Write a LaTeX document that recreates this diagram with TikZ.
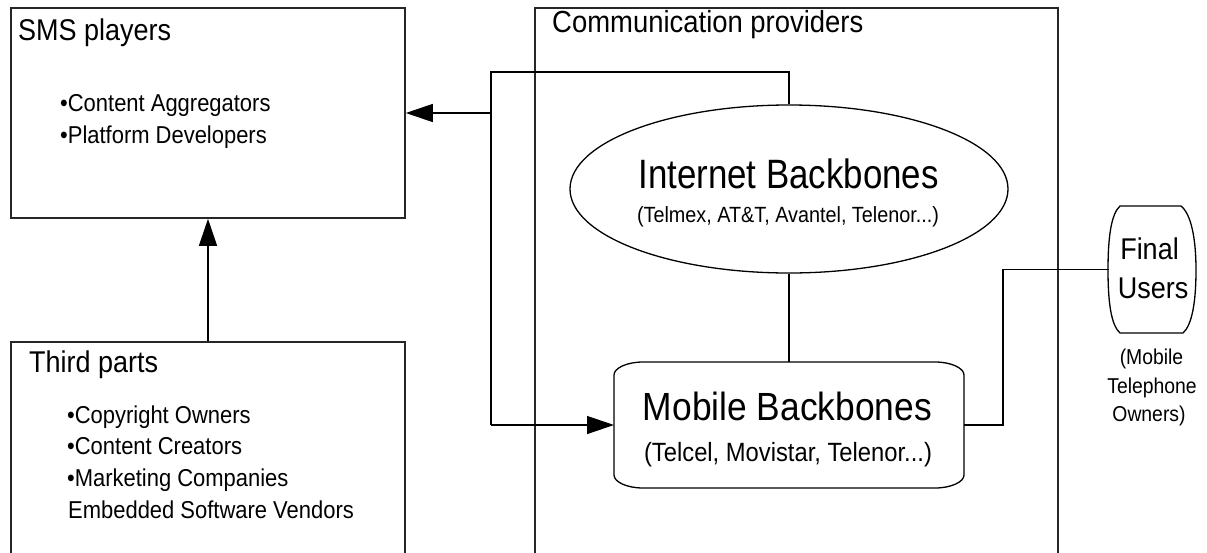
\documentclass[tikz,border=0pt]{standalone}
\usepackage{fontspec}
\setmainfont{Liberation Sans}[FakeStretch=0.9]
\newfontfamily\narrowfont{Liberation Sans}[FakeStretch=0.85]
\usetikzlibrary{arrows.meta,shapes.geometric}

\newcommand{\fs}[1]{\fontsize{#1}{#1}\selectfont}

\tikzset{
  frame/.style={draw=black!85, line width=1.6pt, inner sep=0pt},
  hidden/.style={inner sep=0pt, outer sep=0pt},
  wire/.style={draw=black, line width=1.3pt},
  arr/.style={wire, -{Triangle[length=27pt,width=18pt]}},
  lbl/.style={inner sep=0pt, text=black},
  outline/.style={draw=black, line width=1.3pt},
}

\begin{document}
\begin{tikzpicture}[x=1pt, y=-1pt]
  \useasboundingbox (0,0) rectangle (1207,552);
  \clip (0,0) rectangle (1207,552);
  \fill[white] (0,0) rectangle (1207,552);

  % --- outer boxes ---
  \node[frame, minimum width=394pt, minimum height=210pt] (sms) at (208,113) {};
  \node[frame, minimum width=394pt, minimum height=258pt] (tp) at (208,471) {};
  \node[frame, minimum width=523pt, minimum height=592pt] (cp) at (796.5,304) {};

  % --- box titles ---
  \node[lbl, anchor=base west, font=\fs{30}] (smst) at (18,40) {SMS players};
  \node[lbl, anchor=base west, font=\fs{24.4}] (sms1) at (60,111) {•Content Aggregators};
  \node[lbl, anchor=base west, font=\fs{24.4}] (sms2) at (60,143) {•Platform Developers};

  \node[lbl, anchor=base west, font=\fs{30}] (tpt) at (29,372) {Third parts};
  \node[lbl, anchor=base west, font=\fs{24.4}] (tp1) at (67,423) {•Copyright Owners};
  \node[lbl, anchor=base west, font=\fs{24.4}] (tp2) at (67,454) {•Content Creators};
  \node[lbl, anchor=base west, font=\fs{24.4}] (tp3) at (67,486) {•Marketing Companies};
  \node[lbl, anchor=base west, font=\fs{24.4}] (tp4) at (68,518) {Embedded Software Vendors};

  \node[lbl, anchor=base west, font=\fs{30.5}] (cpt) at (552,32) {Communication providers};

  % --- Internet backbones ---
  \node[ellipse, outline, inner sep=0pt, minimum width=438pt, minimum height=168pt] (ib) at (789,189) {};
  \node[lbl, anchor=base, font=\narrowfont\fs{41}] (ib1) at (788.5,188) {Internet Backbones};
  \node[lbl, anchor=base, font=\fs{22}] (ib2) at (788,222) {(Telmex, AT\&T, Avantel, Telenor...)};

  % --- Mobile backbones (rounded box with flattened corners) ---
  \node[hidden, minimum width=350pt, minimum height=126pt] (mb) at (789,425) {};
  \draw[outline]
    (643,362) -- (935,362)
    .. controls (951,362) and (964,368) .. (964,375)
    -- (964,475)
    .. controls (964,482) and (951,488) .. (935,488)
    -- (643,488)
    .. controls (627,488) and (614,482) .. (614,475)
    -- (614,375)
    .. controls (614,368) and (627,362) .. (643,362) -- cycle;
  \node[lbl, anchor=base, font=\fs{39.3}] (mb1) at (787.5,420) {Mobile Backbones};
  \node[lbl, anchor=base, font=\fs{26.4}] (mb2) at (788,461) {(Telcel, Movistar, Telenor...)};

  % --- Final users ---
  \node[hidden, minimum width=86pt, minimum height=127pt] (fu) at (1152,269.5) {};
  \draw[outline]
    (1120,206) -- (1181,206)
    .. controls (1191,214) and (1196,238) .. (1196,270)
    .. controls (1196,302) and (1192,325) .. (1183,333)
    -- (1120,333)
    .. controls (1111,325) and (1108,302) .. (1108,270)
    .. controls (1108,238) and (1111,214) .. (1120,206) -- cycle;
  \node[lbl, anchor=base, font=\fs{30}] (fu1) at (1149.5,259) {Final};
  \node[lbl, anchor=base, font=\fs{30}] (fu2) at (1153,298) {Users};
  \node[lbl, anchor=base, font=\fs{21.5}] (fu3) at (1151.5,364) {(Mobile};
  \node[lbl, anchor=base, font=\fs{21.5}] (fu4) at (1152,393) {Telephone};
  \node[lbl, anchor=base, font=\fs{21.5}] (fu5) at (1149,421) {Owners)};

  % --- connectors ---
  \coordinate (j1) at (491,72);
  \coordinate (r1) at (1003,425);

  \draw[wire] (ib.north) |- (j1) -- (j1 |- mb.west);
  \draw[arr] (j1 |- mb.west) -- (mb.west);
  \draw[arr] (j1 |- sms.east) -- (sms.east);
  \draw[arr] (tp.north) -- (sms.south);
  \draw[wire] (ib.south) -- (mb.north);
  \draw[wire] (mb.east) -- (r1) |- (fu.west);
\end{tikzpicture}
\end{document}
